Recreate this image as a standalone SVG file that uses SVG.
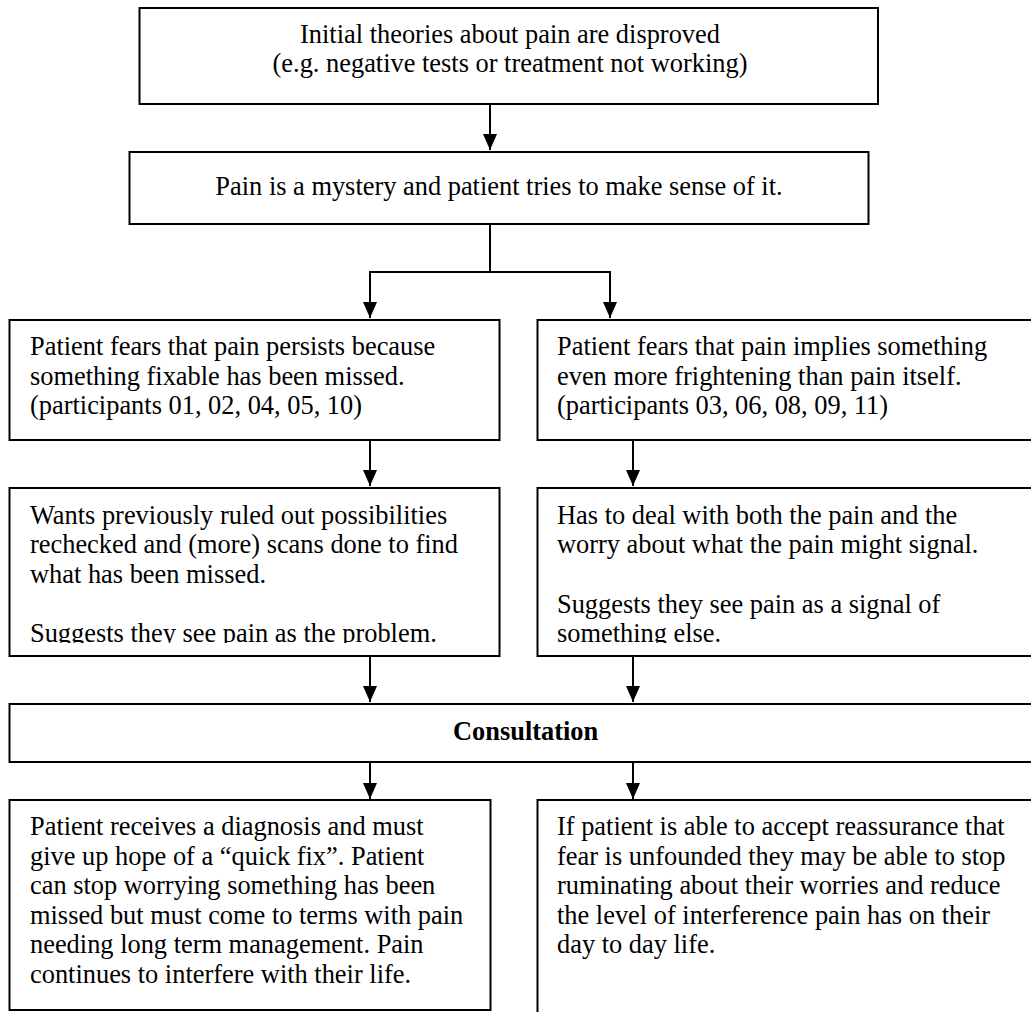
<svg xmlns="http://www.w3.org/2000/svg" width="1031" height="1012" viewBox="0 0 1031 1012">
<style>
.box{fill:#fff;stroke:#000;stroke-width:2}
.t{font-family:"Liberation Serif","Times New Roman",serif;font-size:26.4px;fill:#000}
.c{text-anchor:middle}
.b{font-weight:bold}
.con{fill:none;stroke:#000;stroke-width:2}
</style>
<defs>
<marker id="ah" markerUnits="userSpaceOnUse" markerWidth="16" markerHeight="14" refX="16" refY="7" orient="auto">
<path d="M0,0 L16,7 L0,14 z" fill="#000"/>
</marker>
<clipPath id="clipL"><rect x="0" y="488" width="520" height="155"/></clipPath>
<clipPath id="clipR"><rect x="537" y="488" width="494" height="155"/></clipPath>
</defs>
<rect width="1031" height="1012" fill="#fff"/>
<g id="connectors">
<path class="con" d="M490,104 V150" marker-end="url(#ah)"/>
<path class="con" d="M490,224 V272 H370 V318" marker-end="url(#ah)"/>
<path class="con" d="M490,272 H610 V318" marker-end="url(#ah)"/>
<path class="con" d="M370,440 V486" marker-end="url(#ah)"/>
<path class="con" d="M633,440 V486" marker-end="url(#ah)"/>
<path class="con" d="M370,656 V702" marker-end="url(#ah)"/>
<path class="con" d="M633,656 V702" marker-end="url(#ah)"/>
<path class="con" d="M370,752 V799" marker-end="url(#ah)"/>
<path class="con" d="M633,752 V799" marker-end="url(#ah)"/>
</g>
<g id="n1">
<rect class="box" x="139.5" y="8" width="738.5" height="96"/>
<text class="t c" x="510" y="43">Initial theories about pain are disproved</text>
<text class="t c" x="510" y="72">(e.g. negative tests or treatment not working)</text>
</g>
<g id="n2">
<rect class="box" x="129.5" y="152" width="739" height="72"/>
<text class="t c" x="499" y="195">Pain is a mystery and patient tries to make sense of it.</text>
</g>
<g id="n3">
<rect class="box" x="9.5" y="320" width="490" height="120"/>
<text class="t" x="30" y="355">Patient fears that pain persists because</text>
<text class="t" x="30" y="384.5">something fixable has been missed.</text>
<text class="t" x="30" y="414">(participants 01, 02, 04, 05, 10)</text>
</g>
<g id="n4">
<rect class="box" x="537.5" y="320" width="500" height="120"/>
<text class="t" x="557" y="355">Patient fears that pain implies something</text>
<text class="t" x="557" y="384.5">even more frightening than pain itself.</text>
<text class="t" x="557" y="414">(participants 03, 06, 08, 09, 11)</text>
</g>
<g id="n5">
<rect class="box" x="9.5" y="488" width="490" height="168"/>
<g clip-path="url(#clipL)">
<text class="t" x="30" y="523.5">Wants previously ruled out possibilities</text>
<text class="t" x="30" y="553">rechecked and (more) scans done to find</text>
<text class="t" x="30" y="582.5">what has been missed.</text>
<text class="t" x="30" y="642">Suggests they see pain as the problem.</text>
</g>
</g>
<g id="n6">
<rect class="box" x="537.5" y="488" width="500" height="168"/>
<g clip-path="url(#clipR)">
<text class="t" x="557" y="523.5">Has to deal with both the pain and the</text>
<text class="t" x="557" y="553">worry about what the pain might signal.</text>
<text class="t" x="557" y="612.5">Suggests they see pain as a signal of</text>
<text class="t" x="557" y="642">something else.</text>
</g>
</g>
<g id="n7">
<rect class="box" x="9.5" y="704" width="1030" height="58"/>
<text class="t b" x="453" y="740">Consultation</text>
</g>
<g id="n8">
<rect class="box" x="9.5" y="800" width="481" height="210"/>
<text class="t" x="30" y="835">Patient receives a diagnosis and must</text>
<text class="t" x="30" y="864.5">give up hope of a “quick fix”. Patient</text>
<text class="t" x="30" y="894">can stop worrying something has been</text>
<text class="t" x="30" y="923.5">missed but must come to terms with pain</text>
<text class="t" x="30" y="953">needing long term management. Pain</text>
<text class="t" x="30" y="982.5">continues to interfere with their life.</text>
</g>
<g id="n9">
<rect class="box" x="537.5" y="800" width="500" height="230"/>
<text class="t" x="557" y="835">If patient is able to accept reassurance that</text>
<text class="t" x="557" y="864.5">fear is unfounded they may be able to stop</text>
<text class="t" x="557" y="894">ruminating about their worries and reduce</text>
<text class="t" x="557" y="923.5">the level of interference pain has on their</text>
<text class="t" x="557" y="953">day to day life.</text>
</g>
</svg>
